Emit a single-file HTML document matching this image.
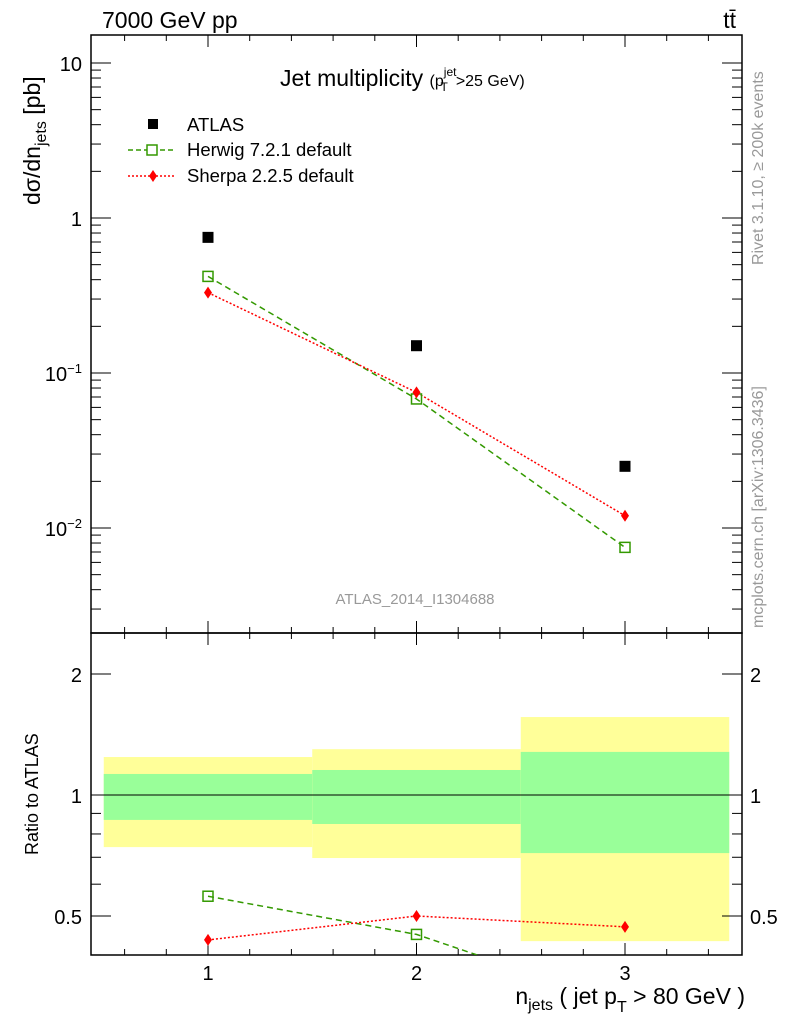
<!DOCTYPE html>
<html><head><meta charset="utf-8"><style>
body{margin:0;background:#fff;}
svg{font-family:"Liberation Sans",sans-serif;}
</style></head><body>
<svg id="c" width="786" height="1024" xmlns="http://www.w3.org/2000/svg"></svg>
<script>
const categories=[1,2,3];
const atlas=[0.75,0.15,0.025];
const herwig=[0.42,0.068,0.0075];
const sherpa=[0.33,0.075,0.012];
const herwigRatio=[0.56,0.45,0.30];
const sherpaRatio=[0.436,0.50,0.47];
const bandYellowHi=[1.243,1.30,1.563];
const bandYellowLo=[0.742,0.697,0.433];
const bandGreenHi=[1.128,1.154,1.28];
const bandGreenLo=[0.867,0.847,0.717];
const mainTicks=[10,1,0.1,0.01];
const mainTickLabels=["10","1","10<tspan dy='-8' font-size='13'>−1</tspan>","10<tspan dy='-8' font-size='13'>−2</tspan>"];
const ratioTicks=[2,1,0.5];
const xTicks=[1,2,3];

const NS="http://www.w3.org/2000/svg";
const svg=document.getElementById('c');
const L=91,R=742,T=35,MB=633,RB=955;
const X=v=>208+(v-1)*208.5;
const Y=v=>218-155*Math.log10(v);
const RY=v=>795-402*Math.log10(v);
function el(tag,attrs,parent){const e=document.createElementNS(NS,tag);for(const k in attrs)e.setAttribute(k,attrs[k]);(parent||svg).appendChild(e);return e;}
function txt(s,attrs,parent){const e=el('text',attrs,parent);e.innerHTML=s;return e;}

const defs=el('defs',{});
const cp1=el('clipPath',{id:'cm'},defs);el('rect',{x:L,y:T,width:R-L,height:MB-T},cp1);
const cp2=el('clipPath',{id:'cr'},defs);el('rect',{x:L,y:MB,width:R-L,height:RB-MB},cp2);

const gb=el('g',{'clip-path':'url(#cr)'});
categories.forEach((c,i)=>{
  const x0=X(c-0.5),x1=X(c+0.5);
  const y=el('rect',{x:x0,y:RY(bandYellowHi[i]),width:x1-x0,height:RY(bandYellowLo[i])-RY(bandYellowHi[i]),fill:'#ffff99'},gb);
  
  
  const g=el('rect',{x:x0,y:RY(bandGreenHi[i]),width:x1-x0,height:RY(bandGreenLo[i])-RY(bandGreenHi[i]),fill:'#99ff99'},gb);
  
  
});
el('line',{x1:L,x2:R,y1:RY(1),y2:RY(1),stroke:'#000','stroke-width':1},gb);

el('rect',{x:L,y:T,width:R-L,height:MB-T,fill:'none',stroke:'#000','stroke-width':1.5});
el('rect',{x:L,y:MB,width:R-L,height:RB-MB,fill:'none',stroke:'#000','stroke-width':1.5});

for(let v=0.6;v<3.55;v+=0.2){
  const maj=Math.abs(v-Math.round(v))<0.01, len=maj?12:6;
  [[T,1],[MB,-1],[MB,1],[RB,-1]].forEach(([y0,d])=>el('line',{x1:X(v),x2:X(v),y1:y0,y2:y0+d*len,stroke:'#000'}));
}
xTicks.forEach(v=>{const t=txt(String(v),{x:X(v),y:980,'font-size':20,'text-anchor':'middle'});});

for(let d=-3;d<=1;d++){for(let m=1;m<10;m++){const v=m*Math.pow(10,d);const y=Y(v);if(y<T||y>MB)continue;const len=m==1?20:10;
el('line',{x1:L,x2:L+len,y1:y,y2:y,stroke:'#000'});el('line',{x1:R,x2:R-len,y1:y,y2:y,stroke:'#000'});}}
mainTicks.forEach((v,i)=>{const t=txt(mainTickLabels[i],{x:82,y:Y(v)+8,'font-size':20,'text-anchor':'end'});});
[0.4,0.5,0.6,0.7,0.8,0.9,1,2].forEach(v=>{const y=RY(v);const len=(v==1||v==2||v==0.5)?20:10;
el('line',{x1:L,x2:L+len,y1:y,y2:y,stroke:'#000'});el('line',{x1:R,x2:R-len,y1:y,y2:y,stroke:'#000'});});
ratioTicks.forEach(v=>{const s=String(v);
const a=txt(s,{x:82,y:RY(v)+8,'font-size':20,'text-anchor':'end'});
const b=txt(s,{x:750,y:RY(v)+8,'font-size':20});});

const gm=el('g',{'clip-path':'url(#cm)'});
el('polyline',{points:categories.map((c,i)=>X(c)+','+Y(herwig[i])).join(' '),fill:'none',stroke:'#339900','stroke-width':1.5,'stroke-dasharray':'6,4'},gm);
el('polyline',{points:categories.map((c,i)=>X(c)+','+Y(sherpa[i])).join(' '),fill:'none',stroke:'#ff0000','stroke-width':1.5,'stroke-dasharray':'2,2'},gm);
categories.forEach((c,i)=>{
  const a=el('rect',{x:X(c)-5.5,y:Y(atlas[i])-5.5,width:11,height:11,fill:'#000'},gm);
  
  const h=el('rect',{x:X(c)-5,y:Y(herwig[i])-5,width:10,height:10,fill:'none',stroke:'#339900','stroke-width':1.5},gm);
  
  const x=X(c),y=Y(sherpa[i]);
  const s=el('polygon',{points:`${x},${y-6} ${x+4},${y} ${x},${y+6} ${x-4},${y}`,fill:'#ff0000'},gm);
  
});
const gr=el('g',{'clip-path':'url(#cr)'});
el('polyline',{points:categories.map((c,i)=>X(c)+','+RY(herwigRatio[i])).join(' '),fill:'none',stroke:'#339900','stroke-width':1.5,'stroke-dasharray':'6,4'},gr);
el('polyline',{points:categories.map((c,i)=>X(c)+','+RY(sherpaRatio[i])).join(' '),fill:'none',stroke:'#ff0000','stroke-width':1.5,'stroke-dasharray':'2,2'},gr);
categories.forEach((c,i)=>{
  const h=el('rect',{x:X(c)-5,y:RY(herwigRatio[i])-5,width:10,height:10,fill:'none',stroke:'#339900','stroke-width':1.5},gr);
  
  const x=X(c),y=RY(sherpaRatio[i]);
  const s=el('polygon',{points:`${x},${y-6} ${x+4},${y} ${x},${y+6} ${x-4},${y}`,fill:'#ff0000'},gr);
  
});
</script>
<svg width="786" height="1024" style="position:absolute;left:0;top:0;font-family:'Liberation Sans',sans-serif">
<text x="102" y="28" font-size="23">7000 GeV pp</text>
<text x="736" y="28" font-size="23" text-anchor="end">tt̄</text>
<text x="280" y="86" font-size="23">Jet multiplicity <tspan font-size="16">(p</tspan><tspan font-size="12" dy="-10">jet</tspan><tspan font-size="12" dx="-16" dy="15">T</tspan><tspan font-size="16" dx="8" dy="-5">&gt;25 GeV)</tspan></text>
<g>
<rect x="148" y="119" width="10" height="10" fill="#000"/>
<text x="187" y="131" font-size="18.5">ATLAS</text>
<line x1="128" x2="176" y1="150" y2="150" stroke="#339900" stroke-width="1.5" stroke-dasharray="5,3"/>
<rect x="147" y="145" width="10" height="10" fill="#fff" stroke="#339900" stroke-width="1.5"/>
<text x="187" y="156" font-size="18.5">Herwig 7.2.1 default</text>
<line x1="128" x2="176" y1="176" y2="176" stroke="#f00" stroke-width="1.5" stroke-dasharray="2,2"/>
<polygon points="153,170 157,176 153,182 149,176" fill="#f00"/>
<text x="187" y="182" font-size="18.5">Sherpa 2.2.5 default</text>
</g>
<text x="415" y="604" font-size="15" fill="#999" text-anchor="middle">ATLAS_2014_I1304688</text>
<text transform="translate(40,205) rotate(-90)" font-size="23">dσ/dn<tspan font-size="16" dy="6">jets</tspan><tspan dy="-6"> [pb]</tspan></text>
<text transform="translate(38,855) rotate(-90)" font-size="18">Ratio to ATLAS</text>
<text transform="translate(763,265) rotate(-90)" font-size="16" fill="#999">Rivet 3.1.10, ≥ 200k events</text>
<text transform="translate(763,628) rotate(-90)" font-size="16" fill="#999">mcplots.cern.ch [arXiv:1306.3436]</text>
<text x="745" y="1004" font-size="23" text-anchor="end">n<tspan font-size="16" dy="6">jets</tspan><tspan dy="-6"> ( jet p</tspan><tspan font-size="16" dy="8">T</tspan><tspan dy="-8"> &gt; 80 GeV )</tspan></text>
</svg>
</body></html>
